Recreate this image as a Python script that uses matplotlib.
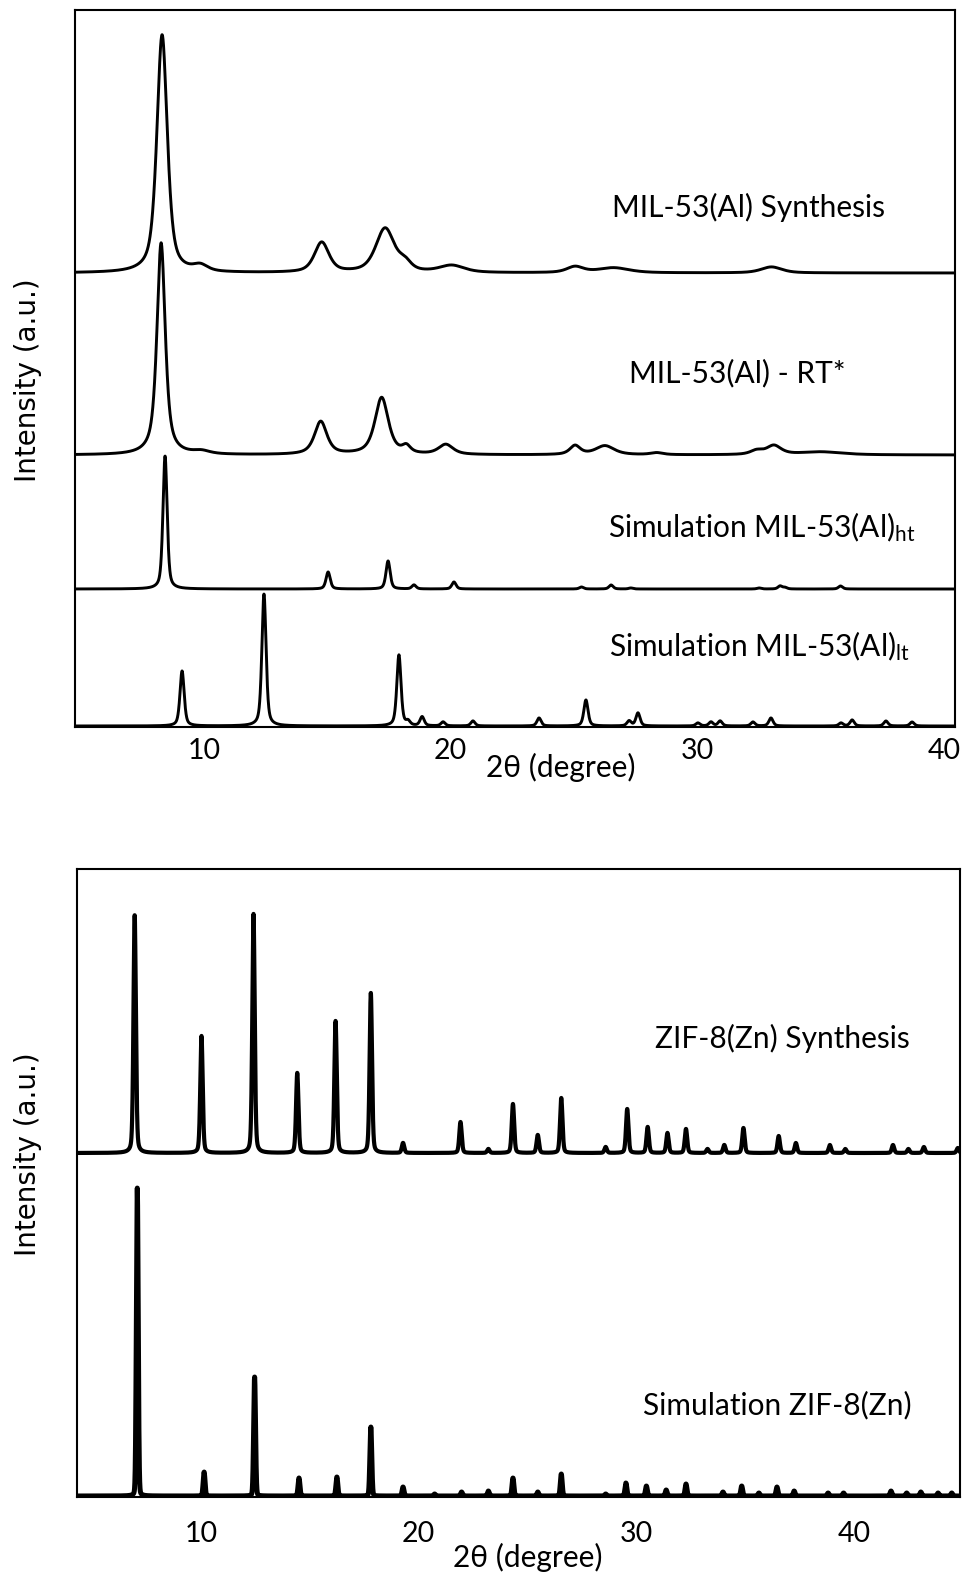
import matplotlib.pyplot as plt
import numpy as np

plt.rcParams['font.family'] = ['Lato', 'DejaVu Sans']

# ---- MIL-53(Al) panel: peak positions (2theta), heights (a.u.), widths
syn_pos = [8.3, 9.85, 14.77, 17.34, 18.15, 20.04, 25.04, 26.6, 33.0]
syn_int = [238, 6, 30, 44, 8, 7, 6, 5, 6]
syn_fwhm = [0.5, 0.7, 0.7, 0.9, 0.6, 1.2, 0.8, 1.5, 1.0]

rt_pos = [8.26, 9.9, 14.73, 17.2, 18.2, 19.8, 25.04, 26.25, 28.35, 32.4, 33.1, 35.0]
rt_int = [212, 3, 33, 57, 7, 10, 9, 9, 2, 4, 9, 3]
rt_fwhm = [0.4, 0.8, 0.6, 0.65, 0.4, 0.7, 0.5, 0.9, 0.6, 0.6, 0.7, 2.0]

ht_pos = [8.42, 15.03, 17.46, 18.51, 20.13, 25.3, 26.5, 27.3, 32.5, 33.35, 33.55, 35.8]
ht_int = [133, 17, 28, 4, 7, 2, 4, 1, 1, 3, 1.5, 3]

lt_pos = [9.11, 12.43, 17.9, 18.27, 18.84, 19.69, 20.9, 23.58, 25.48, 27.23, 27.59,
          30.02, 30.55, 30.92, 32.25, 32.98, 35.82, 36.27, 37.64, 38.7]
lt_int = [55, 132, 71, 4, 9, 4, 5, 8, 26, 5, 13, 3, 4, 5, 4, 8, 3, 6, 5, 4]

# ---- ZIF-8(Zn) panel
zif_pos = [6.95, 10.02, 12.41, 14.42, 16.18, 17.8, 19.28, 21.92, 23.2, 24.33, 25.47,
           26.55, 28.59, 29.58, 30.52, 31.43, 32.28, 33.27, 34.04, 34.92, 36.54,
           37.33, 38.89, 39.6, 41.79, 42.5, 43.21, 44.77]
zif_int = [238, 117, 239, 80, 132, 160, 10, 31, 4, 49, 18, 55, 6, 44, 26, 20, 24, 4,
           8, 25, 17, 10, 8, 4, 8, 4, 6, 5]

zsim_pos = [7.07, 10.14, 12.46, 14.5, 16.24, 17.8, 19.28, 20.73, 21.97, 23.2, 24.33,
            25.47, 26.55, 28.59, 29.52, 30.46, 31.37, 32.28, 33.98, 34.84, 35.63,
            36.46, 37.25, 38.81, 39.52, 41.7, 42.42, 43.07, 43.86, 44.49]
zsim_int = [308, 24, 119, 18, 19, 69, 9, 2, 4, 5, 18, 4, 22, 2, 13, 10, 6, 12, 4, 10,
            3, 9, 5, 3, 3, 5, 3, 4, 3, 3]


def profile(tt, pos, inten, fwhm, eta):
    fwhm = np.broadcast_to(fwhm, len(pos))
    y = np.zeros_like(tt)
    for c, h, w in zip(pos, inten, fwhm):
        g = np.exp(-4 * np.log(2) * ((tt - c) / w) ** 2)
        l = 1 / (1 + 4 * ((tt - c) / w) ** 2)
        y += h * (eta * l + (1 - eta) * g)
    return y


W, H = 967, 1578
fig = plt.figure(figsize=(W / 100, H / 100), dpi=100)


def px_axes(l, t, r, b):
    return fig.add_axes([l / W, 1 - b / H, (r - l) / W, (b - t) / H])


# top panel
ax1 = px_axes(75, 10, 955, 727)
tt = np.linspace(4.77, 40.44, 5000)
ax1.plot(tt, 454 + profile(tt, syn_pos, syn_int, syn_fwhm, 0.6), color='black', lw=2.1)
ax1.plot(tt, 272 + profile(tt, rt_pos, rt_int, rt_fwhm, 0.7), color='black', lw=2.1)
ax1.plot(tt, 138 + profile(tt, ht_pos, ht_int, 0.2, 0.5), color='black', lw=2.1)
ax1.plot(tt, 1 + profile(tt, lt_pos, lt_int, 0.2, 0.5), color='black', lw=2.1)
ax1.set_xlim(4.77, 40.44)
ax1.set_ylim(0, 717)
ax1.set_xticks([10, 20, 30, 40])
ax1.set_yticks([])
ax1.tick_params(axis='x', length=0, labelsize=20.5, pad=8)
ax1.set_xlabel('2θ (degree)', fontsize=21.5)
ax1.xaxis.set_label_coords((561 - 75) / 880, -(767 - 727) / 717)
ax1.xaxis.label.set_va('center')
ax1.set_ylabel('Intensity (a.u.)', fontsize=20, family='DejaVu Sans')
ax1.yaxis.set_label_coords(-(75 - 28) / 880, (727 - 380) / 717)
ax1.yaxis.label.set_va('center')

# bottom panel
ax2 = px_axes(77, 869, 960, 1497)
tt2 = np.linspace(4.30, 44.87, 8000)
ax2.plot(tt2, 344 + profile(tt2, zif_pos, zif_int, 0.13, 0.3), color='black', lw=3.0)
ax2.plot(tt2, 1 + profile(tt2, zsim_pos, zsim_int, 0.1, 0.1), color='black', lw=3.6)
ax2.set_xlim(4.30, 44.87)
ax2.set_ylim(0, 628)
ax2.set_xticks([10, 20, 30, 40])
ax2.set_yticks([])
ax2.tick_params(axis='x', length=0, labelsize=20.5, pad=17)
ax2.set_xlabel('2θ (degree)', fontsize=21.5)
ax2.xaxis.set_label_coords((528 - 77) / 883, -(1557 - 1497) / 628)
ax2.xaxis.label.set_va('center')
ax2.set_ylabel('Intensity (a.u.)', fontsize=20, family='DejaVu Sans')
ax2.yaxis.set_label_coords(-(77 - 28) / 883, (1497 - 1154) / 628)
ax2.yaxis.label.set_va('center')

for ax in (ax1, ax2):
    for s in ax.spines.values():
        s.set_linewidth(1.5)

# curve labels
labels = [
    (612, 207, 'MIL-53(Al) Synthesis'),
    (629, 373, 'MIL-53(Al) - RT*'),
    (608, 527, 'Simulation MIL-53(Al)$\\mathregular{_{ht}}$'),
    (609, 646, 'Simulation MIL-53(Al)$\\mathregular{_{lt}}$'),
    (655, 1038, 'ZIF-8(Zn) Synthesis'),
    (643, 1405, 'Simulation ZIF-8(Zn)'),
]
for x, y, s in labels:
    fig.text(x / W, 1 - y / H, s, fontsize=21.5, ha='left', va='center')

fig.savefig('out.png', dpi=100)
